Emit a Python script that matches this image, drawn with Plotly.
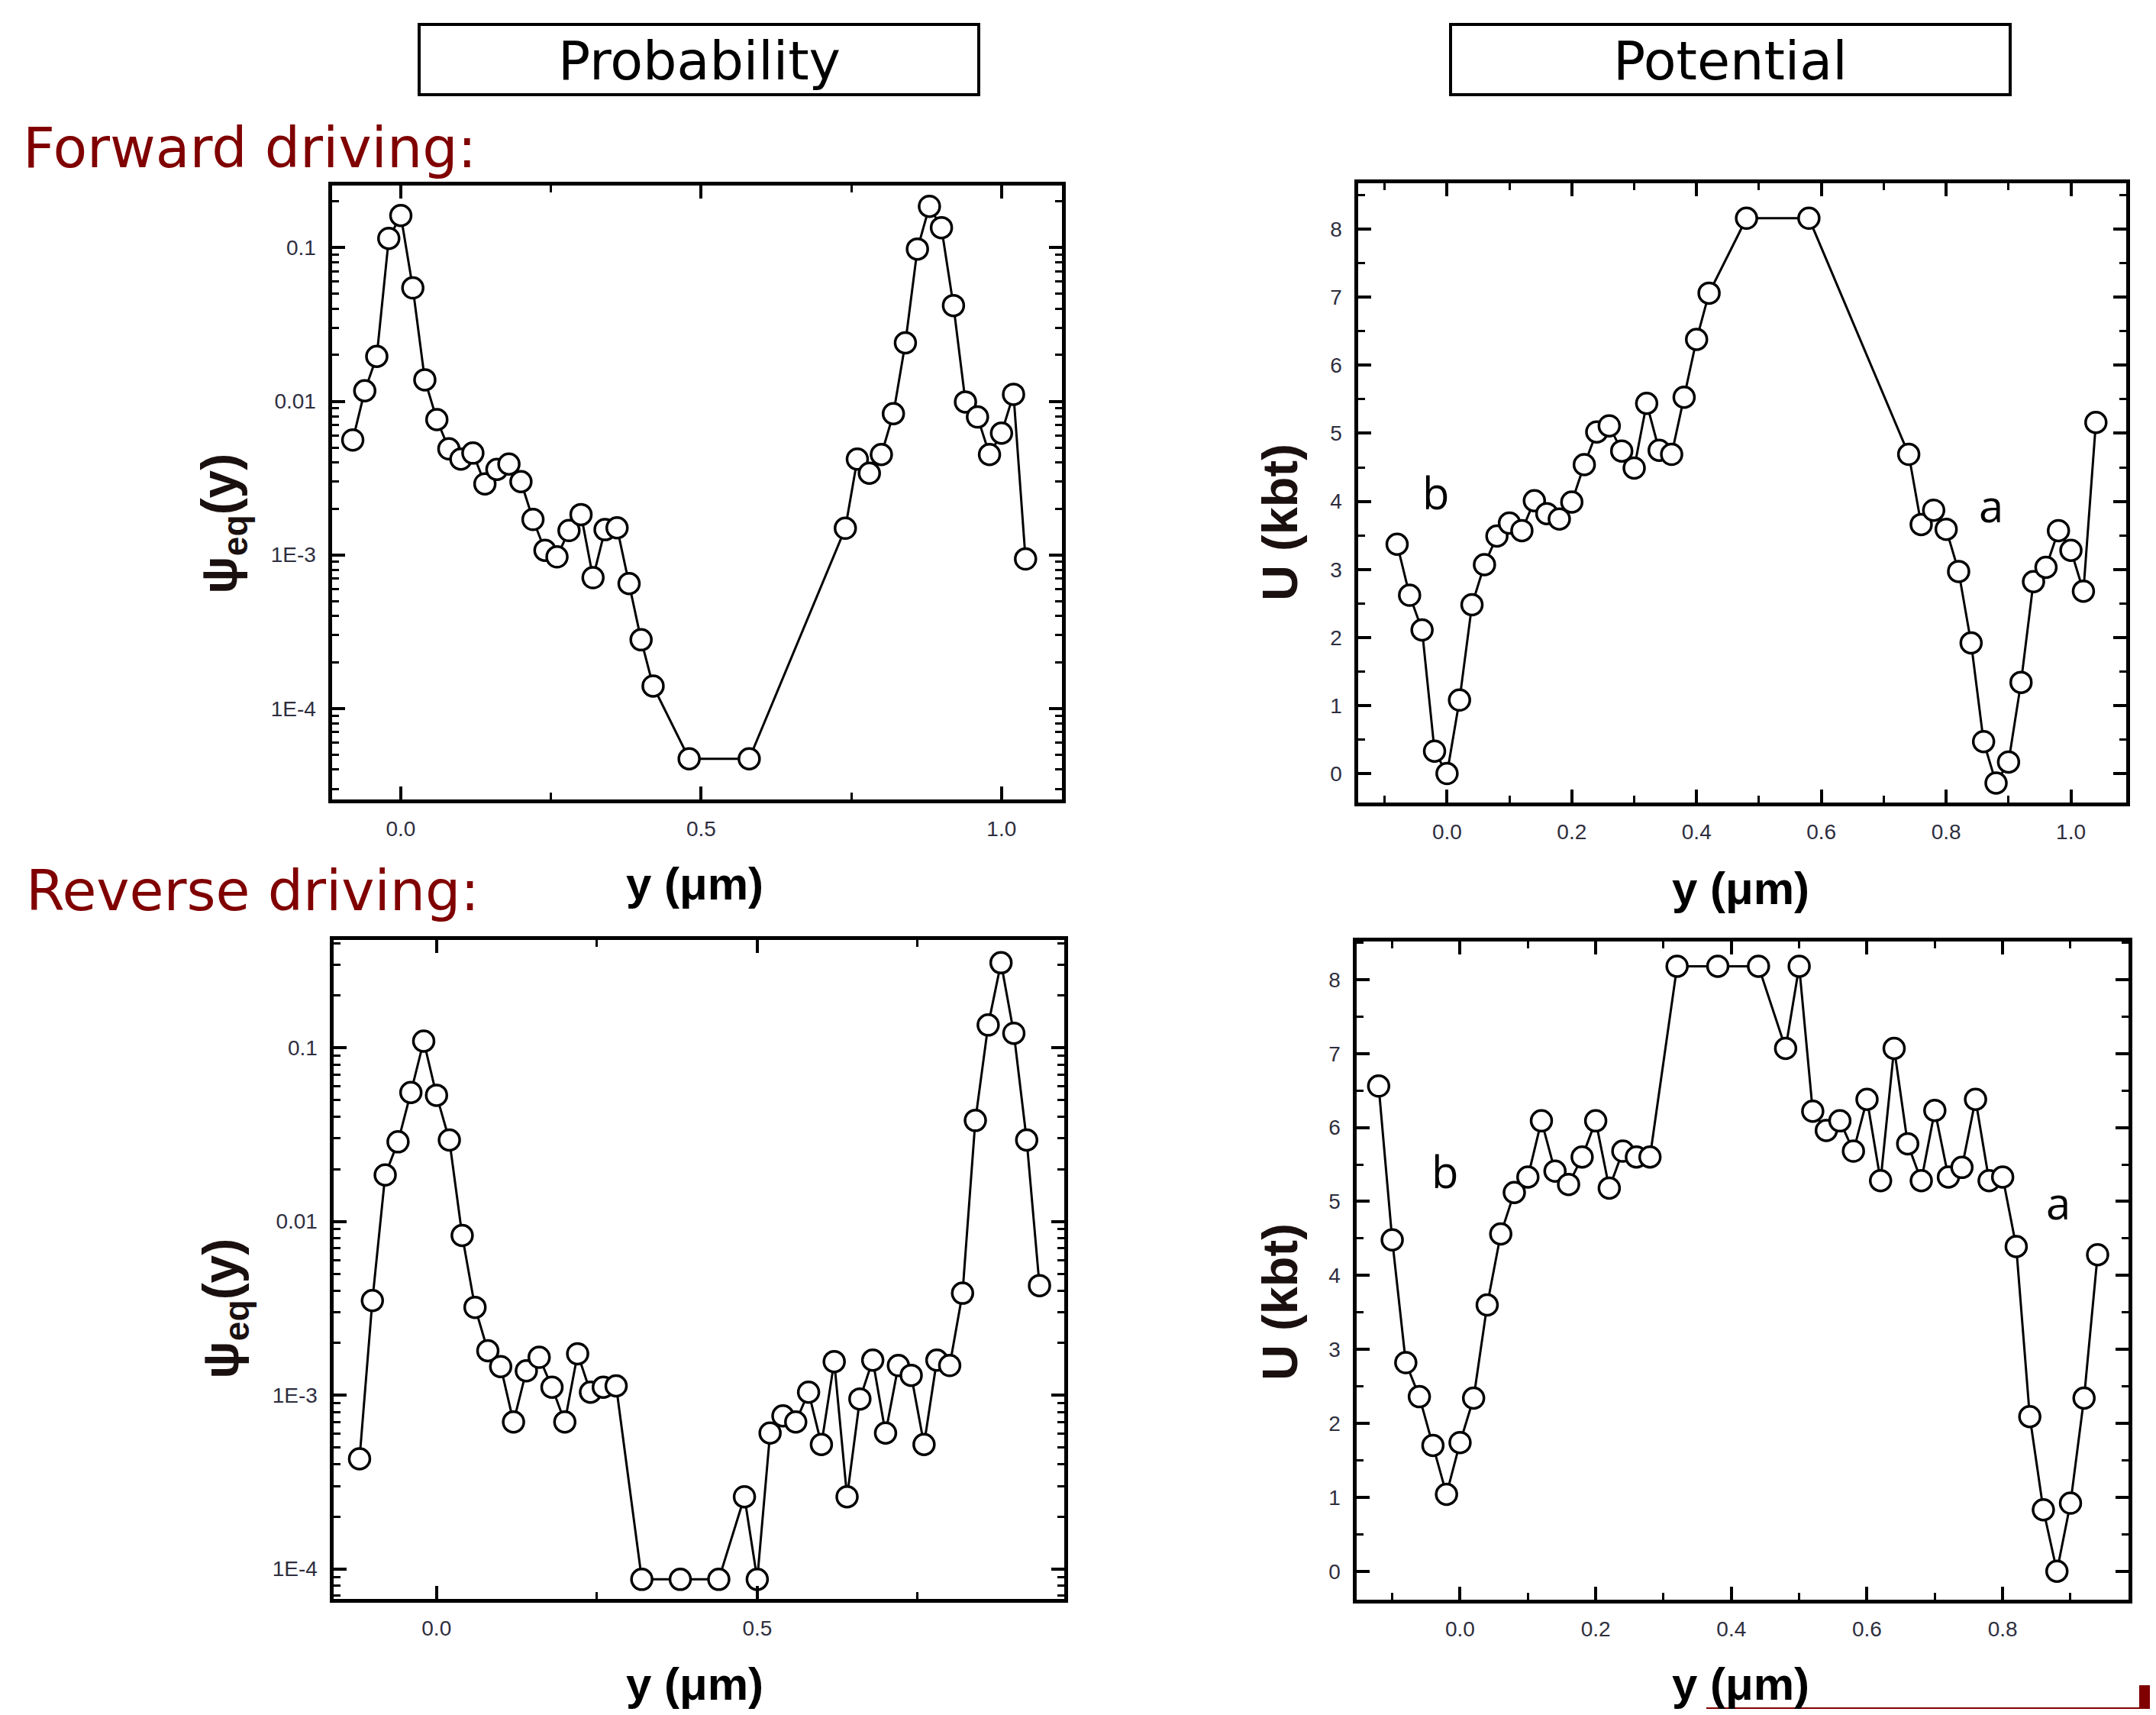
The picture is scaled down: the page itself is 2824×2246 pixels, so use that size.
import plotly.graph_objects as go

# ---------------- data ----------------
y_fwd = [-0.08, -0.06, -0.04, -0.02, 0.00, 0.02, 0.04, 0.06, 0.08, 0.10, 0.12, 0.14, 0.16, 0.18,
         0.20, 0.22, 0.24, 0.26, 0.28, 0.30, 0.32, 0.34, 0.36, 0.38, 0.40, 0.42, 0.48, 0.58,
         0.74, 0.76, 0.78, 0.80, 0.82, 0.84, 0.86, 0.88, 0.90, 0.92, 0.94, 0.96, 0.98, 1.00,
         1.02, 1.04]
psi_fwd = [0.0056, 0.0117, 0.0196, 0.115, 0.162, 0.0547, 0.0138, 0.0076, 0.0049, 0.0042, 0.0046,
           0.0029, 0.0036, 0.0039, 0.0030, 0.0017, 0.00107, 0.00097, 0.00144, 0.00183, 0.00071,
           0.00146, 0.0015, 0.00065, 0.00028, 0.00014, 4.7e-5, 4.7e-5, 0.00149, 0.0042, 0.0034,
           0.0045, 0.0083, 0.024, 0.098, 0.186, 0.135, 0.042, 0.0099, 0.0079, 0.0045, 0.0062,
           0.0111, 0.00094]
U_fwd = [3.37, 2.62, 2.11, 0.33, 0.0, 1.08, 2.48, 3.07, 3.49, 3.68, 3.57, 4.01, 3.82, 3.74, 3.99,
         4.54, 5.02, 5.11, 4.74, 4.49, 5.44, 4.75, 4.69, 5.53, 6.38, 7.06, 8.16, 8.16, 4.69, 3.66,
         3.87, 3.59, 2.97, 1.92, 0.47, -0.14, 0.17, 1.34, 2.82, 3.03, 3.57, 3.28, 2.68, 5.16]

y_rev = [-0.12, -0.10, -0.08, -0.06, -0.04, -0.02, 0.00, 0.02, 0.04, 0.06, 0.08, 0.10, 0.12, 0.14,
         0.16, 0.18, 0.20, 0.22, 0.24, 0.26, 0.28, 0.32, 0.38, 0.44, 0.48, 0.50, 0.52, 0.54, 0.56,
         0.58, 0.60, 0.62, 0.64, 0.66, 0.68, 0.70, 0.72, 0.74, 0.76, 0.78, 0.80, 0.82, 0.84, 0.86,
         0.88, 0.90, 0.92, 0.94]
psi_rev = [0.00043, 0.0035, 0.0185, 0.0287, 0.0552, 0.109, 0.0532, 0.0294, 0.0083, 0.0032,
           0.0018, 0.00146, 0.0007, 0.00138, 0.00165, 0.00111, 0.0007, 0.00173, 0.00104, 0.00111,
           0.00113, 8.7e-5, 8.7e-5, 8.7e-5, 0.00026, 8.7e-5, 0.000605, 0.00076, 0.0007, 0.00104,
           0.00052, 0.00156, 0.00026, 0.00095, 0.00159, 0.000605, 0.00148, 0.0013, 0.00052,
           0.00159, 0.00148, 0.00386, 0.0381, 0.135, 0.308, 0.121, 0.0294, 0.00427]
U_rev = [6.56, 4.48, 2.82, 2.36, 1.70, 1.04, 1.74, 2.34, 3.60, 4.56, 5.12, 5.33, 6.09, 5.41, 5.23,
         5.60, 6.09, 5.18, 5.68, 5.60, 5.60, 8.18, 8.18, 8.18, 7.07, 8.18, 6.22, 5.96, 6.09, 5.68,
         6.38, 5.28, 7.07, 5.78, 5.28, 6.23, 5.33, 5.46, 6.38, 5.28, 5.33, 4.39, 2.09, 0.83, 0.0,
         0.92, 2.34, 4.28]

log_tickvals = [1e-4, 1e-3, 1e-2, 1e-1]
log_ticktext = ["1E-4", "1E-3", "0.01", "0.1"]
log_minor = [k * 10.0 ** e for e in range(-5, 0) for k in range(2, 10)]

# ---------------- layout helpers ----------------
PAGE_W, PAGE_H = 2824, 2246
BODY_MARGIN = 8                      # default HTML body margin
W, H = PAGE_W - 2 * BODY_MARGIN, PAGE_H - 2 * BODY_MARGIN

def fx(p):
    return (p - BODY_MARGIN) / W
def fy(p):
    return 1 - (p - BODY_MARGIN) / H

MAROON = "#800000"
TICKFONT = dict(family="Liberation Sans, Arial, sans-serif", size=28, color="#2e2e3e")

fig = go.Figure()

line_style = dict(color="black", width=3)
marker_style = dict(symbol="circle", size=27, color="white", line=dict(color="black", width=3.5))

panels = [
    (y_fwd, psi_fwd, "x", "y"),
    (y_fwd, U_fwd, "x2", "y2"),
    (y_rev, psi_rev, "x3", "y3"),
    (y_rev, U_rev, "x4", "y4"),
]
for xs, ys, xa, ya in panels:
    fig.add_trace(go.Scatter(x=xs, y=ys, mode="lines+markers", xaxis=xa, yaxis=ya,
                             line=line_style, marker=marker_style, showlegend=False,
                             cliponaxis=False))

base = dict(showline=True, linecolor="black", linewidth=5, mirror="allticks",
            ticks="inside", ticklen=17, tickwidth=3.5, tickcolor="black",
            showgrid=False, zeroline=False, tickfont=TICKFONT, ticklabelstandoff=10)

def minor(**kw):
    d = dict(ticks="inside", ticklen=9, tickwidth=3, tickcolor="black", showgrid=False)
    d.update(kw)
    return d

# frame positions in page pixels (left, right), (top, bottom)
dom = {
    1: ([432, 1393], [240, 1049]),
    2: ([1776, 2787], [237, 1053]),
    3: ([434, 1396], [1228, 2096]),
    4: ([1774, 2790], [1230, 2097]),
}
INSET = 2.5

def xd(i):
    a, b = dom[i][0]
    return [fx(a + INSET), fx(b - INSET)]
def yd(i):
    a, b = dom[i][1]
    return [fy(b - INSET), fy(a + INSET)]

fig.update_layout(
    xaxis=dict(base, domain=xd(1), anchor="y", range=[-0.115, 1.10], dtick=0.5, tick0=0,
               tickformat=".1f", minor=minor(dtick=0.25, tick0=0)),
    yaxis=dict(base, domain=yd(1), anchor="x", type="log", range=[-4.59, -0.593],
               tickmode="array", tickvals=log_tickvals, ticktext=log_ticktext,
               minor=minor(tickmode="array", tickvals=log_minor)),
    xaxis2=dict(base, domain=xd(2), anchor="y2", range=[-0.143, 1.088], dtick=0.2, tick0=0,
                tickformat=".1f", minor=minor(dtick=0.1, tick0=0)),
    yaxis2=dict(base, domain=yd(2), anchor="x2", range=[-0.42, 8.68], dtick=1, tick0=0,
                minor=minor(dtick=0.5, tick0=0)),
    xaxis3=dict(base, domain=xd(3), anchor="y3", range=[-0.161, 0.978], dtick=0.5, tick0=0,
                tickformat=".1f", minor=minor(dtick=0.25, tick0=0)),
    yaxis3=dict(base, domain=yd(3), anchor="x3", type="log", range=[-4.171, -0.378],
                tickmode="array", tickvals=log_tickvals, ticktext=log_ticktext,
                minor=minor(tickmode="array", tickvals=log_minor)),
    xaxis4=dict(base, domain=xd(4), anchor="y4", range=[-0.153, 0.985], dtick=0.2, tick0=0,
                tickformat=".1f", minor=minor(dtick=0.1, tick0=0)),
    yaxis4=dict(base, domain=yd(4), anchor="x4", range=[-0.38, 8.52], dtick=1, tick0=0,
                minor=minor(dtick=0.5, tick0=0)),
)

annotations = []
shapes = []

HEAD_FONT = dict(family="DejaVu Sans", size=70, color="black")
for (x0, x1, text) in [(549, 1282, "Probability"), (1900, 2633, "Potential")]:
    shapes.append(dict(type="rect", xref="paper", yref="paper", x0=fx(x0), x1=fx(x1),
                       y0=fy(124), y1=fy(32), line=dict(color="black", width=4),
                       fillcolor="rgba(0,0,0,0)"))
    annotations.append(dict(text=text, xref="paper", yref="paper", x=fx((x0 + x1) / 2),
                            y=fy(80), xanchor="center", yanchor="middle", showarrow=False,
                            font=HEAD_FONT))

SIDE_FONT = dict(family="DejaVu Sans", size=73, color=MAROON)
annotations.append(dict(text="Forward driving:", xref="paper", yref="paper", x=fx(28), y=fy(194),
                        xanchor="left", yanchor="middle", showarrow=False, font=SIDE_FONT))
annotations.append(dict(text="Reverse driving:", xref="paper", yref="paper", x=fx(32), y=fy(1166),
                        xanchor="left", yanchor="middle", showarrow=False, font=SIDE_FONT))

AX_FONT = dict(family="Liberation Sans, Arial, sans-serif", size=60, color="black")
for (cx, cy) in [(910, 1157), (2280, 1163), (910, 2205), (2280, 2205)]:
    annotations.append(dict(text="<b>y (μm)</b>", xref="paper", yref="paper", x=fx(cx), y=fy(cy),
                            xanchor="center", yanchor="middle", showarrow=False, font=AX_FONT))

PSI_FONT = dict(family="Liberation Sans, Arial, sans-serif", size=66, color="#1a1010")
U_FONT = dict(family="Liberation Sans, Arial, sans-serif", size=65, color="#1a1010")
for (cx, cy) in [(292, 686), (294, 1714)]:
    annotations.append(dict(text="<b>ψ<sub>eq</sub>(y)</b>", xref="paper", yref="paper",
                            x=fx(cx), y=fy(cy), xanchor="center", yanchor="middle",
                            textangle=-90, showarrow=False, font=PSI_FONT))
for (cx, cy) in [(1676, 684), (1676, 1705)]:
    annotations.append(dict(text="<b>U (kbt)</b>", xref="paper", yref="paper",
                            x=fx(cx), y=fy(cy), xanchor="center", yanchor="middle",
                            textangle=-90, showarrow=False, font=U_FONT))

LBL_FONT = dict(family="Open Sans, Noto Sans, sans-serif", size=58, color="black")
for (xr, yr, xv, yv, t) in [("x2", "y2", -0.017, 4.14, "b"), ("x2", "y2", 0.872, 3.94, "a"),
                            ("x4", "y4", -0.022, 5.41, "b"), ("x4", "y4", 0.882, 4.99, "a")]:
    annotations.append(dict(text=t, xref=xr, yref=yr, x=xv, y=yv, xanchor="center",
                            yanchor="middle", showarrow=False, font=LBL_FONT))

# decorative maroon corner bar and bottom rule
shapes.append(dict(type="rect", xref="paper", yref="paper", x0=fx(2802), x1=1.0, y0=0.0,
                   y1=fy(2207), line=dict(width=0), fillcolor=MAROON))
shapes.append(dict(type="rect", xref="paper", yref="paper", x0=fx(2235), x1=1.0, y0=0.0,
                   y1=fy(2236), line=dict(width=0), fillcolor=MAROON))

fig.update_layout(
    width=W, height=H,
    margin=dict(l=0, r=0, t=0, b=0),
    paper_bgcolor="white", plot_bgcolor="white",
    annotations=annotations, shapes=shapes,
    showlegend=False,
)

fig.write_html("out.html")
